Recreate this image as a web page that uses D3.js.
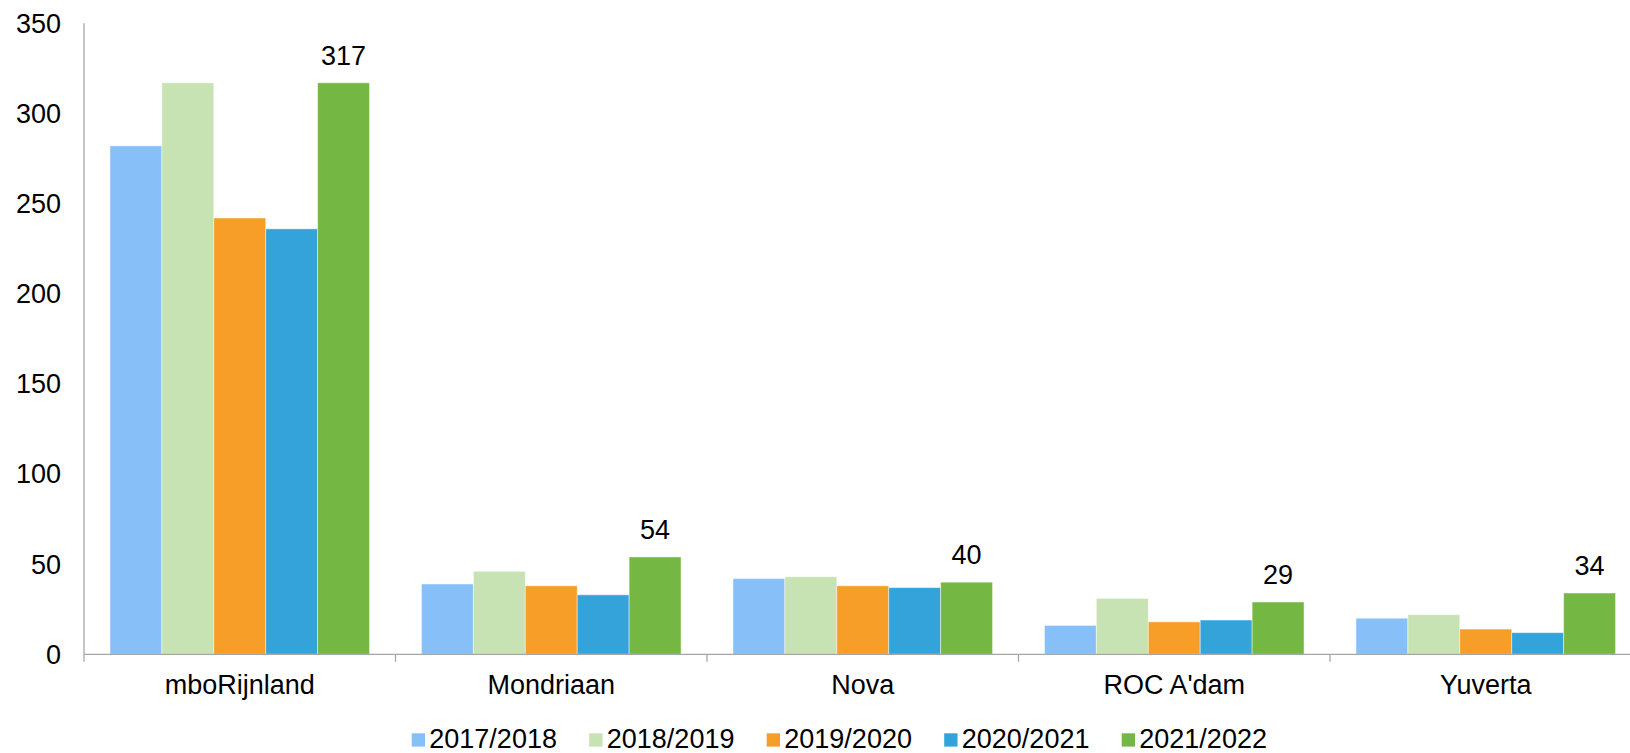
<!DOCTYPE html>
<html>
<head>
<meta charset="utf-8">
<script src="https://cdn.jsdelivr.net/npm/d3@7"></script>
<style>
  html, body { margin: 0; padding: 0; background: #fff; }
  svg { display: block; font-family: "Liberation Sans", Arial, sans-serif; }
</style>
</head>
<body>
<svg id="chart" width="1630" height="753"></svg>
<script>
const categories = ["mboRijnland", "Mondriaan", "Nova", "ROC A'dam", "Yuverta"];
const seriesNames = ["2017/2018", "2018/2019", "2019/2020", "2020/2021", "2021/2022"];
const s2017 = [282, 39, 42, 16, 20];
const s2018 = [317, 46, 43, 31, 22];
const s2019 = [242, 38, 38, 18, 14];
const s2020 = [236, 33, 37, 19, 12];
const s2021 = [317, 54, 40, 29, 34];
const yTicks = [0, 50, 100, 150, 200, 250, 300, 350];
const colors = ["#87C0F8", "#C7E2B3", "#F69E28", "#33A3DA", "#75B743"];

const series = [s2017, s2018, s2019, s2020, s2021];

const svg = d3.select("#chart");
const plotLeft = 84, bandW = 311.5, plotTop = 23.3, base = 654.3;
const fs = 27;

const x = d3.scaleBand().domain(categories).range([plotLeft, plotLeft + bandW * categories.length]).paddingInner(0).paddingOuter(0);
const xi = d3.scaleBand().domain(seriesNames).range([0, x.bandwidth()]).paddingOuter(0.5).paddingInner(0);
const y = d3.scaleLinear().domain([0, 350]).range([base, plotTop]);

// y tick labels
svg.append("g").selectAll("text").data(yTicks).join("text")
  .attr("x", 61).attr("y", d => y(d)).attr("dy", "0.35em")
  .attr("text-anchor", "end").attr("font-size", fs).attr("fill", "#000")
  .text(d => d);

// bars
const g = svg.append("g");
categories.forEach((c, ci) => {
  g.append("g").selectAll("rect").data(seriesNames).join("rect")
    .attr("x", (s) => x(c) + xi(s))
    .attr("y", (s, si) => y(series[si][ci]))
    .attr("width", xi.bandwidth())
    .attr("height", (s, si) => base - y(series[si][ci]))
    .attr("fill", (s, si) => colors[si])
    .attr("stroke", "#ffffff").attr("stroke-opacity", 0.45).attr("stroke-width", 1);
});

// data labels for 2021/2022
svg.append("g").selectAll("text").data(categories).join("text")
  .attr("x", c => x(c) + xi(seriesNames[4]) + xi.bandwidth() / 2)
  .attr("y", (c, ci) => y(s2021[ci]) - 17.7)
  .attr("text-anchor", "middle").attr("font-size", fs).attr("fill", "#000")
  .text((c, ci) => s2021[ci]);

// axes lines
svg.append("line").attr("x1", plotLeft).attr("x2", plotLeft).attr("y1", plotTop).attr("y2", base)
  .attr("stroke", "#A6A6A6").attr("stroke-width", 1.3);
svg.append("line").attr("x1", plotLeft).attr("x2", 1630).attr("y1", base).attr("y2", base)
  .attr("stroke", "#A6A6A6").attr("stroke-width", 1.3);
// category separator ticks
const sepData = categories.map(c => x(c)).concat([x.range()[1]]);
svg.append("g").selectAll("line").data(sepData).join("line")
  .attr("x1", d => d).attr("x2", d => d).attr("y1", base).attr("y2", base + 7.5)
  .attr("stroke", "#A6A6A6").attr("stroke-width", 1.3);

// category labels
svg.append("g").selectAll("text").data(categories).join("text")
  .attr("x", c => x(c) + x.bandwidth() / 2).attr("y", 694.3)
  .attr("text-anchor", "middle").attr("font-size", fs).attr("fill", "#000")
  .text(c => c);

// legend
const lx = d3.scaleBand().domain(seriesNames).range([411.7, 411.7 + 177.5 * 5]);
const leg = svg.append("g").selectAll("g").data(seriesNames).join("g")
  .attr("transform", s => `translate(${lx(s)},0)`);
leg.append("rect").attr("x", 0).attr("y", 733.3).attr("width", 13.3).attr("height", 13.3)
  .attr("fill", (s, i) => colors[i]);
leg.append("text").attr("x", 17.6).attr("y", 748.3).attr("font-size", fs).attr("fill", "#000")
  .text(s => s);
</script>
</body>
</html>
